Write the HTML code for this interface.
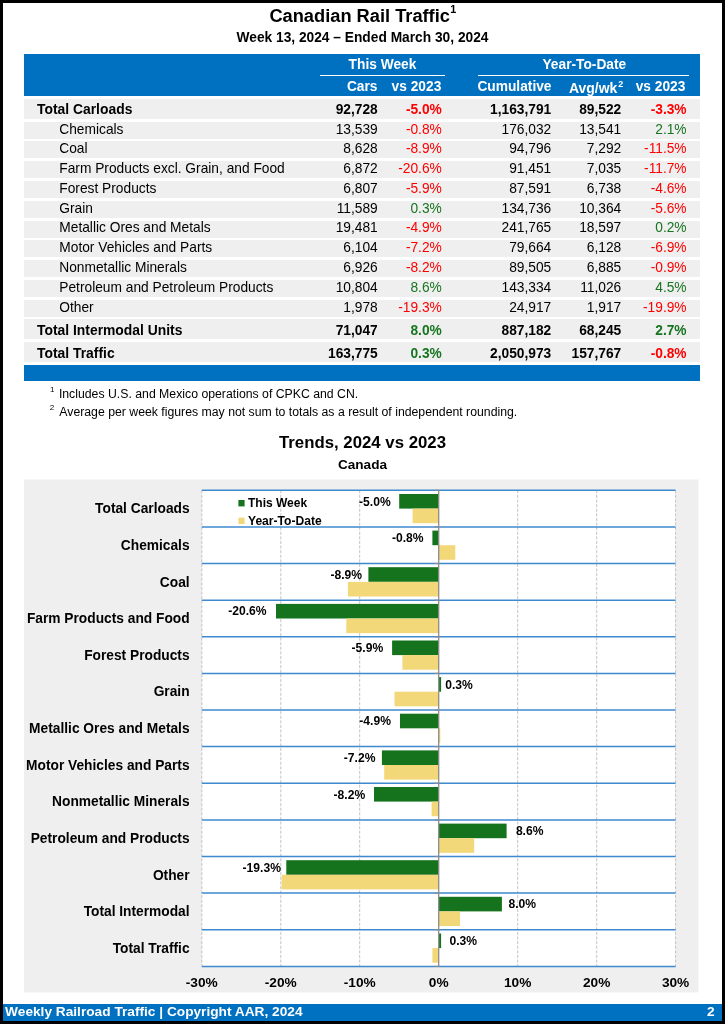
<!DOCTYPE html>
<html><head><meta charset="utf-8"><title>Canadian Rail Traffic</title>
<style>
html,body{margin:0;padding:0;}
body{width:725px;height:1024px;position:relative;overflow:hidden;background:#fff;font-family:"Liberation Sans",sans-serif;color:#000;}
.abs{position:absolute;white-space:nowrap;}
.frame{position:absolute;left:0;top:0;width:719px;height:1018px;border:3px solid #000;box-sizing:content-box;pointer-events:none;}
.b{font-weight:bold;}
.band{position:absolute;left:24px;width:675.5px;background:#efefef;}
.r{text-align:right;}
.c{text-align:center;}
.hd{color:#fff;font-weight:bold;font-size:13.75px;line-height:16px;}
sup.s{font-size:0.62em;vertical-align:baseline;position:relative;top:-0.55em;line-height:0;}
</style></head><body>

<div class="abs b" style="left:269.4px;top:5.1px;font-size:18.25px;line-height:22px;">Canadian Rail Traffic<sup class="s" style="font-size:10.8px;top:-8.9px;margin-left:0.3px;">1</sup></div>
<div class="abs b c" style="left:0;width:725px;top:29.5px;font-size:13.75px;line-height:16px;">Week 13, 2024 – Ended March 30, 2024</div>
<div class="abs" style="left:24px;top:53.6px;width:675.7px;height:42.2px;background:#0070c0;"></div>
<div class="abs hd c" style="left:320px;width:125px;top:56.5px;">This Week</div>
<div class="abs" style="left:320px;width:125px;top:74.8px;height:1.4px;background:#fff;"></div>
<div class="abs hd c" style="left:478.6px;width:211.5px;top:56.5px;">Year-To-Date</div>
<div class="abs" style="left:477.6px;width:211.5px;top:74.8px;height:1.4px;background:#fff;"></div>
<div class="abs hd r" style="left:277.5px;width:100px;top:78.5px;">Cars</div>
<div class="abs hd r" style="left:341.3px;width:100px;top:78.5px;">vs 2023</div>
<div class="abs hd r" style="left:451.5px;width:100px;top:78.5px;">Cumulative</div>
<div class="abs hd" style="left:569.0px;top:79.5px;font-size:13.95px;">Avg/wk<sup class="s" style="font-size:9px;top:-6px;margin-left:1px;">2</sup></div>
<div class="abs hd r" style="left:585.4px;width:100px;top:78.5px;">vs 2023</div>
<div class="band" style="top:98.8px;height:20.0px;"></div>
<div class="abs b" style="left:37.0px;top:101.00px;line-height:16px;font-size:13.88px;">Total Carloads</div>
<div class="abs r b" style="left:277.7px;width:100px;top:101.50px;line-height:16px;font-size:13.75px;">92,728</div>
<div class="abs r b" style="left:341.8px;width:100px;color:#ff0000;top:101.50px;line-height:16px;font-size:13.75px;">-5.0%</div>
<div class="abs r b" style="left:451.2px;width:100px;top:101.50px;line-height:16px;font-size:13.75px;">1,163,791</div>
<div class="abs r b" style="left:521.2px;width:100px;top:101.50px;line-height:16px;font-size:13.75px;">89,522</div>
<div class="abs r b" style="left:586.6px;width:100px;color:#ff0000;top:101.50px;line-height:16px;font-size:13.75px;">-3.3%</div>
<div class="band" style="top:121.5px;height:17.1px;"></div>
<div class="abs" style="left:59.3px;top:121.50px;line-height:16px;font-size:13.75px;">Chemicals</div>
<div class="abs r" style="left:277.7px;width:100px;top:121.50px;line-height:16px;font-size:13.75px;">13,539</div>
<div class="abs r" style="left:341.8px;width:100px;color:#ff0000;top:121.50px;line-height:16px;font-size:13.75px;">-0.8%</div>
<div class="abs r" style="left:451.2px;width:100px;top:121.50px;line-height:16px;font-size:13.75px;">176,032</div>
<div class="abs r" style="left:521.2px;width:100px;top:121.50px;line-height:16px;font-size:13.75px;">13,541</div>
<div class="abs r" style="left:586.6px;width:100px;color:#17741f;top:121.50px;line-height:16px;font-size:13.75px;">2.1%</div>
<div class="band" style="top:141.3px;height:17.1px;"></div>
<div class="abs" style="left:59.3px;top:140.50px;line-height:16px;font-size:13.75px;">Coal</div>
<div class="abs r" style="left:277.7px;width:100px;top:140.50px;line-height:16px;font-size:13.75px;">8,628</div>
<div class="abs r" style="left:341.8px;width:100px;color:#ff0000;top:140.50px;line-height:16px;font-size:13.75px;">-8.9%</div>
<div class="abs r" style="left:451.2px;width:100px;top:140.50px;line-height:16px;font-size:13.75px;">94,796</div>
<div class="abs r" style="left:521.2px;width:100px;top:140.50px;line-height:16px;font-size:13.75px;">7,292</div>
<div class="abs r" style="left:586.6px;width:100px;color:#ff0000;top:140.50px;line-height:16px;font-size:13.75px;">-11.5%</div>
<div class="band" style="top:161.1px;height:17.1px;"></div>
<div class="abs" style="left:59.3px;top:160.50px;line-height:16px;font-size:13.75px;">Farm Products excl. Grain, and Food</div>
<div class="abs r" style="left:277.7px;width:100px;top:160.50px;line-height:16px;font-size:13.75px;">6,872</div>
<div class="abs r" style="left:341.8px;width:100px;color:#ff0000;top:160.50px;line-height:16px;font-size:13.75px;">-20.6%</div>
<div class="abs r" style="left:451.2px;width:100px;top:160.50px;line-height:16px;font-size:13.75px;">91,451</div>
<div class="abs r" style="left:521.2px;width:100px;top:160.50px;line-height:16px;font-size:13.75px;">7,035</div>
<div class="abs r" style="left:586.6px;width:100px;color:#ff0000;top:160.50px;line-height:16px;font-size:13.75px;">-11.7%</div>
<div class="band" style="top:180.9px;height:17.1px;"></div>
<div class="abs" style="left:59.3px;top:180.50px;line-height:16px;font-size:13.75px;">Forest Products</div>
<div class="abs r" style="left:277.7px;width:100px;top:180.50px;line-height:16px;font-size:13.75px;">6,807</div>
<div class="abs r" style="left:341.8px;width:100px;color:#ff0000;top:180.50px;line-height:16px;font-size:13.75px;">-5.9%</div>
<div class="abs r" style="left:451.2px;width:100px;top:180.50px;line-height:16px;font-size:13.75px;">87,591</div>
<div class="abs r" style="left:521.2px;width:100px;top:180.50px;line-height:16px;font-size:13.75px;">6,738</div>
<div class="abs r" style="left:586.6px;width:100px;color:#ff0000;top:180.50px;line-height:16px;font-size:13.75px;">-4.6%</div>
<div class="band" style="top:200.7px;height:17.1px;"></div>
<div class="abs" style="left:59.3px;top:200.50px;line-height:16px;font-size:13.75px;">Grain</div>
<div class="abs r" style="left:277.7px;width:100px;top:200.50px;line-height:16px;font-size:13.75px;">11,589</div>
<div class="abs r" style="left:341.8px;width:100px;color:#17741f;top:200.50px;line-height:16px;font-size:13.75px;">0.3%</div>
<div class="abs r" style="left:451.2px;width:100px;top:200.50px;line-height:16px;font-size:13.75px;">134,736</div>
<div class="abs r" style="left:521.2px;width:100px;top:200.50px;line-height:16px;font-size:13.75px;">10,364</div>
<div class="abs r" style="left:586.6px;width:100px;color:#ff0000;top:200.50px;line-height:16px;font-size:13.75px;">-5.6%</div>
<div class="band" style="top:220.5px;height:17.1px;"></div>
<div class="abs" style="left:59.3px;top:219.50px;line-height:16px;font-size:13.75px;">Metallic Ores and Metals</div>
<div class="abs r" style="left:277.7px;width:100px;top:219.50px;line-height:16px;font-size:13.75px;">19,481</div>
<div class="abs r" style="left:341.8px;width:100px;color:#ff0000;top:219.50px;line-height:16px;font-size:13.75px;">-4.9%</div>
<div class="abs r" style="left:451.2px;width:100px;top:219.50px;line-height:16px;font-size:13.75px;">241,765</div>
<div class="abs r" style="left:521.2px;width:100px;top:219.50px;line-height:16px;font-size:13.75px;">18,597</div>
<div class="abs r" style="left:586.6px;width:100px;color:#17741f;top:219.50px;line-height:16px;font-size:13.75px;">0.2%</div>
<div class="band" style="top:240.2px;height:17.0px;"></div>
<div class="abs" style="left:59.3px;top:239.50px;line-height:16px;font-size:13.75px;">Motor Vehicles and Parts</div>
<div class="abs r" style="left:277.7px;width:100px;top:239.50px;line-height:16px;font-size:13.75px;">6,104</div>
<div class="abs r" style="left:341.8px;width:100px;color:#ff0000;top:239.50px;line-height:16px;font-size:13.75px;">-7.2%</div>
<div class="abs r" style="left:451.2px;width:100px;top:239.50px;line-height:16px;font-size:13.75px;">79,664</div>
<div class="abs r" style="left:521.2px;width:100px;top:239.50px;line-height:16px;font-size:13.75px;">6,128</div>
<div class="abs r" style="left:586.6px;width:100px;color:#ff0000;top:239.50px;line-height:16px;font-size:13.75px;">-6.9%</div>
<div class="band" style="top:260.0px;height:17.0px;"></div>
<div class="abs" style="left:59.3px;top:259.50px;line-height:16px;font-size:13.75px;">Nonmetallic Minerals</div>
<div class="abs r" style="left:277.7px;width:100px;top:259.50px;line-height:16px;font-size:13.75px;">6,926</div>
<div class="abs r" style="left:341.8px;width:100px;color:#ff0000;top:259.50px;line-height:16px;font-size:13.75px;">-8.2%</div>
<div class="abs r" style="left:451.2px;width:100px;top:259.50px;line-height:16px;font-size:13.75px;">89,505</div>
<div class="abs r" style="left:521.2px;width:100px;top:259.50px;line-height:16px;font-size:13.75px;">6,885</div>
<div class="abs r" style="left:586.6px;width:100px;color:#ff0000;top:259.50px;line-height:16px;font-size:13.75px;">-0.9%</div>
<div class="band" style="top:279.8px;height:17.0px;"></div>
<div class="abs" style="left:59.3px;top:279.50px;line-height:16px;font-size:13.75px;">Petroleum and Petroleum Products</div>
<div class="abs r" style="left:277.7px;width:100px;top:279.50px;line-height:16px;font-size:13.75px;">10,804</div>
<div class="abs r" style="left:341.8px;width:100px;color:#17741f;top:279.50px;line-height:16px;font-size:13.75px;">8.6%</div>
<div class="abs r" style="left:451.2px;width:100px;top:279.50px;line-height:16px;font-size:13.75px;">143,334</div>
<div class="abs r" style="left:521.2px;width:100px;top:279.50px;line-height:16px;font-size:13.75px;">11,026</div>
<div class="abs r" style="left:586.6px;width:100px;color:#17741f;top:279.50px;line-height:16px;font-size:13.75px;">4.5%</div>
<div class="band" style="top:299.5px;height:17.1px;"></div>
<div class="abs" style="left:59.3px;top:299.50px;line-height:16px;font-size:13.75px;">Other</div>
<div class="abs r" style="left:277.7px;width:100px;top:299.50px;line-height:16px;font-size:13.75px;">1,978</div>
<div class="abs r" style="left:341.8px;width:100px;color:#ff0000;top:299.50px;line-height:16px;font-size:13.75px;">-19.3%</div>
<div class="abs r" style="left:451.2px;width:100px;top:299.50px;line-height:16px;font-size:13.75px;">24,917</div>
<div class="abs r" style="left:521.2px;width:100px;top:299.50px;line-height:16px;font-size:13.75px;">1,917</div>
<div class="abs r" style="left:586.6px;width:100px;color:#ff0000;top:299.50px;line-height:16px;font-size:13.75px;">-19.9%</div>
<div class="band" style="top:319.3px;height:20.0px;"></div>
<div class="abs b" style="left:37.0px;top:322.00px;line-height:16px;font-size:13.88px;">Total Intermodal Units</div>
<div class="abs r b" style="left:277.7px;width:100px;top:322.50px;line-height:16px;font-size:13.75px;">71,047</div>
<div class="abs r b" style="left:341.8px;width:100px;color:#17741f;top:322.50px;line-height:16px;font-size:13.75px;">8.0%</div>
<div class="abs r b" style="left:451.2px;width:100px;top:322.50px;line-height:16px;font-size:13.75px;">887,182</div>
<div class="abs r b" style="left:521.2px;width:100px;top:322.50px;line-height:16px;font-size:13.75px;">68,245</div>
<div class="abs r b" style="left:586.6px;width:100px;color:#17741f;top:322.50px;line-height:16px;font-size:13.75px;">2.7%</div>
<div class="band" style="top:342.2px;height:20.2px;"></div>
<div class="abs b" style="left:37.0px;top:345.00px;line-height:16px;font-size:13.88px;">Total Traffic</div>
<div class="abs r b" style="left:277.7px;width:100px;top:345.50px;line-height:16px;font-size:13.75px;">163,775</div>
<div class="abs r b" style="left:341.8px;width:100px;color:#17741f;top:345.50px;line-height:16px;font-size:13.75px;">0.3%</div>
<div class="abs r b" style="left:451.2px;width:100px;top:345.50px;line-height:16px;font-size:13.75px;">2,050,973</div>
<div class="abs r b" style="left:521.2px;width:100px;top:345.50px;line-height:16px;font-size:13.75px;">157,767</div>
<div class="abs r b" style="left:586.6px;width:100px;color:#ff0000;top:345.50px;line-height:16px;font-size:13.75px;">-0.8%</div>
<div class="abs" style="left:24px;top:365px;width:675.7px;height:15.7px;background:#0070c0;"></div>
<div class="abs" style="left:50.1px;top:384.50px;font-size:8px;line-height:10px;">1</div>
<div class="abs" style="left:58.9px;top:386.00px;font-size:12.28px;line-height:16px;">Includes U.S. and Mexico operations of CPKC and CN.</div>
<div class="abs" style="left:49.7px;top:403.00px;font-size:8px;line-height:10px;">2</div>
<div class="abs" style="left:59.3px;top:404.00px;font-size:12.28px;line-height:16px;">Average per week figures may not sum to totals as a result of independent rounding.</div>
<div class="abs b c" style="left:0;width:725px;top:431.5px;font-size:16.8px;line-height:22px;">Trends, 2024 vs 2023</div>
<div class="abs b c" style="left:0;width:725px;top:456.5px;font-size:13.6px;line-height:16px;">Canada</div>
<svg class="abs" style="left:0;top:0;" width="725" height="1024" viewBox="0 0 725 1024" font-family="Liberation Sans, sans-serif" font-weight="bold">
<rect x="24" y="479.5" width="674.3" height="512.9" fill="#efefef"/>
<rect x="201.8" y="490.3" width="473.8" height="476.1" fill="#fff"/>
<line x1="201.8" y1="490.3" x2="201.8" y2="966.4" stroke="#c4c4c4" stroke-width="1" stroke-dasharray="3.1 1.5"/>
<line x1="280.8" y1="490.3" x2="280.8" y2="966.4" stroke="#c4c4c4" stroke-width="1" stroke-dasharray="3.1 1.5"/>
<line x1="359.7" y1="490.3" x2="359.7" y2="966.4" stroke="#c4c4c4" stroke-width="1" stroke-dasharray="3.1 1.5"/>
<line x1="517.7" y1="490.3" x2="517.7" y2="966.4" stroke="#c4c4c4" stroke-width="1" stroke-dasharray="3.1 1.5"/>
<line x1="596.7" y1="490.3" x2="596.7" y2="966.4" stroke="#c4c4c4" stroke-width="1" stroke-dasharray="3.1 1.5"/>
<line x1="675.6" y1="490.3" x2="675.6" y2="966.4" stroke="#c4c4c4" stroke-width="1" stroke-dasharray="3.1 1.5"/>
<line x1="201.8" y1="490.3" x2="675.6" y2="490.3" stroke="#3f89cf" stroke-width="1.5"/>
<line x1="201.8" y1="526.9" x2="675.6" y2="526.9" stroke="#3f89cf" stroke-width="1.5"/>
<line x1="201.8" y1="563.5" x2="675.6" y2="563.5" stroke="#3f89cf" stroke-width="1.5"/>
<line x1="201.8" y1="600.2" x2="675.6" y2="600.2" stroke="#3f89cf" stroke-width="1.5"/>
<line x1="201.8" y1="636.8" x2="675.6" y2="636.8" stroke="#3f89cf" stroke-width="1.5"/>
<line x1="201.8" y1="673.4" x2="675.6" y2="673.4" stroke="#3f89cf" stroke-width="1.5"/>
<line x1="201.8" y1="710.0" x2="675.6" y2="710.0" stroke="#3f89cf" stroke-width="1.5"/>
<line x1="201.8" y1="746.6" x2="675.6" y2="746.6" stroke="#3f89cf" stroke-width="1.5"/>
<line x1="201.8" y1="783.3" x2="675.6" y2="783.3" stroke="#3f89cf" stroke-width="1.5"/>
<line x1="201.8" y1="819.9" x2="675.6" y2="819.9" stroke="#3f89cf" stroke-width="1.5"/>
<line x1="201.8" y1="856.5" x2="675.6" y2="856.5" stroke="#3f89cf" stroke-width="1.5"/>
<line x1="201.8" y1="893.1" x2="675.6" y2="893.1" stroke="#3f89cf" stroke-width="1.5"/>
<line x1="201.8" y1="929.7" x2="675.6" y2="929.7" stroke="#3f89cf" stroke-width="1.5"/>
<line x1="201.8" y1="966.4" x2="675.6" y2="966.4" stroke="#3f89cf" stroke-width="1.5"/>
<rect x="399.2" y="494.0" width="39.5" height="14.6" fill="#15731d"/>
<rect x="412.6" y="508.6" width="26.1" height="14.6" fill="#f2d879"/>
<text x="390.7" y="505.5" font-size="12.1" text-anchor="end" fill="#000">-5.0%</text>
<text x="189.6" y="513.3" font-size="13.75" text-anchor="end" fill="#000">Total Carloads</text>
<rect x="432.4" y="530.6" width="6.3" height="14.6" fill="#15731d"/>
<rect x="438.7" y="545.2" width="16.6" height="14.6" fill="#f2d879"/>
<text x="423.6" y="542.1" font-size="12.1" text-anchor="end" fill="#000">-0.8%</text>
<text x="189.6" y="549.9" font-size="13.75" text-anchor="end" fill="#000">Chemicals</text>
<rect x="368.4" y="567.2" width="70.3" height="14.6" fill="#15731d"/>
<rect x="347.9" y="581.9" width="90.8" height="14.6" fill="#f2d879"/>
<text x="362.1" y="578.7" font-size="12.1" text-anchor="end" fill="#000">-8.9%</text>
<text x="189.6" y="586.5" font-size="13.75" text-anchor="end" fill="#000">Coal</text>
<rect x="276.0" y="603.9" width="162.7" height="14.6" fill="#15731d"/>
<rect x="346.3" y="618.5" width="92.4" height="14.6" fill="#f2d879"/>
<text x="266.6" y="615.4" font-size="12.1" text-anchor="end" fill="#000">-20.6%</text>
<text x="189.6" y="623.2" font-size="13.75" text-anchor="end" fill="#000">Farm Products and Food</text>
<rect x="392.1" y="640.5" width="46.6" height="14.6" fill="#15731d"/>
<rect x="402.4" y="655.1" width="36.3" height="14.6" fill="#f2d879"/>
<text x="383.2" y="652.0" font-size="12.1" text-anchor="end" fill="#000">-5.9%</text>
<text x="189.6" y="659.8" font-size="13.75" text-anchor="end" fill="#000">Forest Products</text>
<rect x="438.7" y="677.1" width="2.4" height="14.6" fill="#15731d"/>
<rect x="394.5" y="691.7" width="44.2" height="14.6" fill="#f2d879"/>
<text x="445.2" y="688.6" font-size="12.1" text-anchor="start" fill="#000">0.3%</text>
<text x="189.6" y="696.4" font-size="13.75" text-anchor="end" fill="#000">Grain</text>
<rect x="400.0" y="713.7" width="38.7" height="14.6" fill="#15731d"/>
<rect x="438.7" y="728.3" width="1.6" height="14.6" fill="#f2d879"/>
<text x="390.9" y="725.2" font-size="12.1" text-anchor="end" fill="#000">-4.9%</text>
<text x="189.6" y="733.0" font-size="13.75" text-anchor="end" fill="#000">Metallic Ores and Metals</text>
<rect x="381.9" y="750.4" width="56.9" height="14.6" fill="#15731d"/>
<rect x="384.2" y="765.0" width="54.5" height="14.6" fill="#f2d879"/>
<text x="375.4" y="761.8" font-size="12.1" text-anchor="end" fill="#000">-7.2%</text>
<text x="189.6" y="769.6" font-size="13.75" text-anchor="end" fill="#000">Motor Vehicles and Parts</text>
<rect x="374.0" y="787.0" width="64.8" height="14.6" fill="#15731d"/>
<rect x="431.6" y="801.6" width="7.1" height="14.6" fill="#f2d879"/>
<text x="365.2" y="798.5" font-size="12.1" text-anchor="end" fill="#000">-8.2%</text>
<text x="189.6" y="806.3" font-size="13.75" text-anchor="end" fill="#000">Nonmetallic Minerals</text>
<rect x="438.7" y="823.6" width="67.9" height="14.6" fill="#15731d"/>
<rect x="438.7" y="838.2" width="35.5" height="14.6" fill="#f2d879"/>
<text x="515.9" y="835.1" font-size="12.1" text-anchor="start" fill="#000">8.6%</text>
<text x="189.6" y="842.9" font-size="13.75" text-anchor="end" fill="#000">Petroleum and Products</text>
<rect x="286.3" y="860.2" width="152.4" height="14.6" fill="#15731d"/>
<rect x="281.6" y="874.8" width="157.2" height="14.6" fill="#f2d879"/>
<text x="280.9" y="871.7" font-size="12.1" text-anchor="end" fill="#000">-19.3%</text>
<text x="189.6" y="879.5" font-size="13.75" text-anchor="end" fill="#000">Other</text>
<rect x="438.7" y="896.8" width="63.2" height="14.6" fill="#15731d"/>
<rect x="438.7" y="911.4" width="21.3" height="14.6" fill="#f2d879"/>
<text x="508.5" y="908.3" font-size="12.1" text-anchor="start" fill="#000">8.0%</text>
<text x="189.6" y="916.1" font-size="13.75" text-anchor="end" fill="#000">Total Intermodal</text>
<rect x="438.7" y="933.5" width="2.4" height="14.6" fill="#15731d"/>
<rect x="432.4" y="948.1" width="6.3" height="14.6" fill="#f2d879"/>
<text x="449.5" y="944.9" font-size="12.1" text-anchor="start" fill="#000">0.3%</text>
<text x="189.6" y="952.8" font-size="13.75" text-anchor="end" fill="#000">Total Traffic</text>
<line x1="438.7" y1="490.3" x2="438.7" y2="966.4" stroke="#8c8c8c" stroke-width="1.3"/>
<line x1="434.7" y1="490.3" x2="438.7" y2="490.3" stroke="#8c8c8c" stroke-width="1.2"/>
<line x1="434.7" y1="526.9" x2="438.7" y2="526.9" stroke="#8c8c8c" stroke-width="1.2"/>
<line x1="434.7" y1="563.5" x2="438.7" y2="563.5" stroke="#8c8c8c" stroke-width="1.2"/>
<line x1="434.7" y1="600.2" x2="438.7" y2="600.2" stroke="#8c8c8c" stroke-width="1.2"/>
<line x1="434.7" y1="636.8" x2="438.7" y2="636.8" stroke="#8c8c8c" stroke-width="1.2"/>
<line x1="434.7" y1="673.4" x2="438.7" y2="673.4" stroke="#8c8c8c" stroke-width="1.2"/>
<line x1="434.7" y1="710.0" x2="438.7" y2="710.0" stroke="#8c8c8c" stroke-width="1.2"/>
<line x1="434.7" y1="746.6" x2="438.7" y2="746.6" stroke="#8c8c8c" stroke-width="1.2"/>
<line x1="434.7" y1="783.3" x2="438.7" y2="783.3" stroke="#8c8c8c" stroke-width="1.2"/>
<line x1="434.7" y1="819.9" x2="438.7" y2="819.9" stroke="#8c8c8c" stroke-width="1.2"/>
<line x1="434.7" y1="856.5" x2="438.7" y2="856.5" stroke="#8c8c8c" stroke-width="1.2"/>
<line x1="434.7" y1="893.1" x2="438.7" y2="893.1" stroke="#8c8c8c" stroke-width="1.2"/>
<line x1="434.7" y1="929.7" x2="438.7" y2="929.7" stroke="#8c8c8c" stroke-width="1.2"/>
<line x1="434.7" y1="966.4" x2="438.7" y2="966.4" stroke="#8c8c8c" stroke-width="1.2"/>
<text x="201.8" y="987.2" font-size="13.7" text-anchor="middle" fill="#000">-30%</text>
<text x="280.8" y="987.2" font-size="13.7" text-anchor="middle" fill="#000">-20%</text>
<text x="359.7" y="987.2" font-size="13.7" text-anchor="middle" fill="#000">-10%</text>
<text x="438.7" y="987.2" font-size="13.7" text-anchor="middle" fill="#000">0%</text>
<text x="517.7" y="987.2" font-size="13.7" text-anchor="middle" fill="#000">10%</text>
<text x="596.7" y="987.2" font-size="13.7" text-anchor="middle" fill="#000">20%</text>
<text x="675.6" y="987.2" font-size="13.7" text-anchor="middle" fill="#000">30%</text>
<rect x="238.4" y="500" width="6.2" height="6.4" fill="#15731d"/>
<text x="248" y="506.7" font-size="12" fill="#000">This Week</text>
<rect x="238.4" y="517.7" width="6.2" height="6.4" fill="#f2d879"/>
<text x="248" y="525.1" font-size="12.1" fill="#000">Year-To-Date</text>
</svg>
<div class="abs" style="left:3px;top:1004px;width:719px;height:17.5px;background:#0070c0;"></div>
<div class="abs b" style="left:5.1px;top:1003.5px;font-size:13.7px;line-height:16px;color:#fff;">Weekly Railroad Traffic | Copyright AAR, 2024</div>
<div class="abs b r" style="left:614.5px;width:100px;top:1003.5px;font-size:13.7px;line-height:16px;color:#fff;">2</div>
<div class="frame"></div>
</body></html>
